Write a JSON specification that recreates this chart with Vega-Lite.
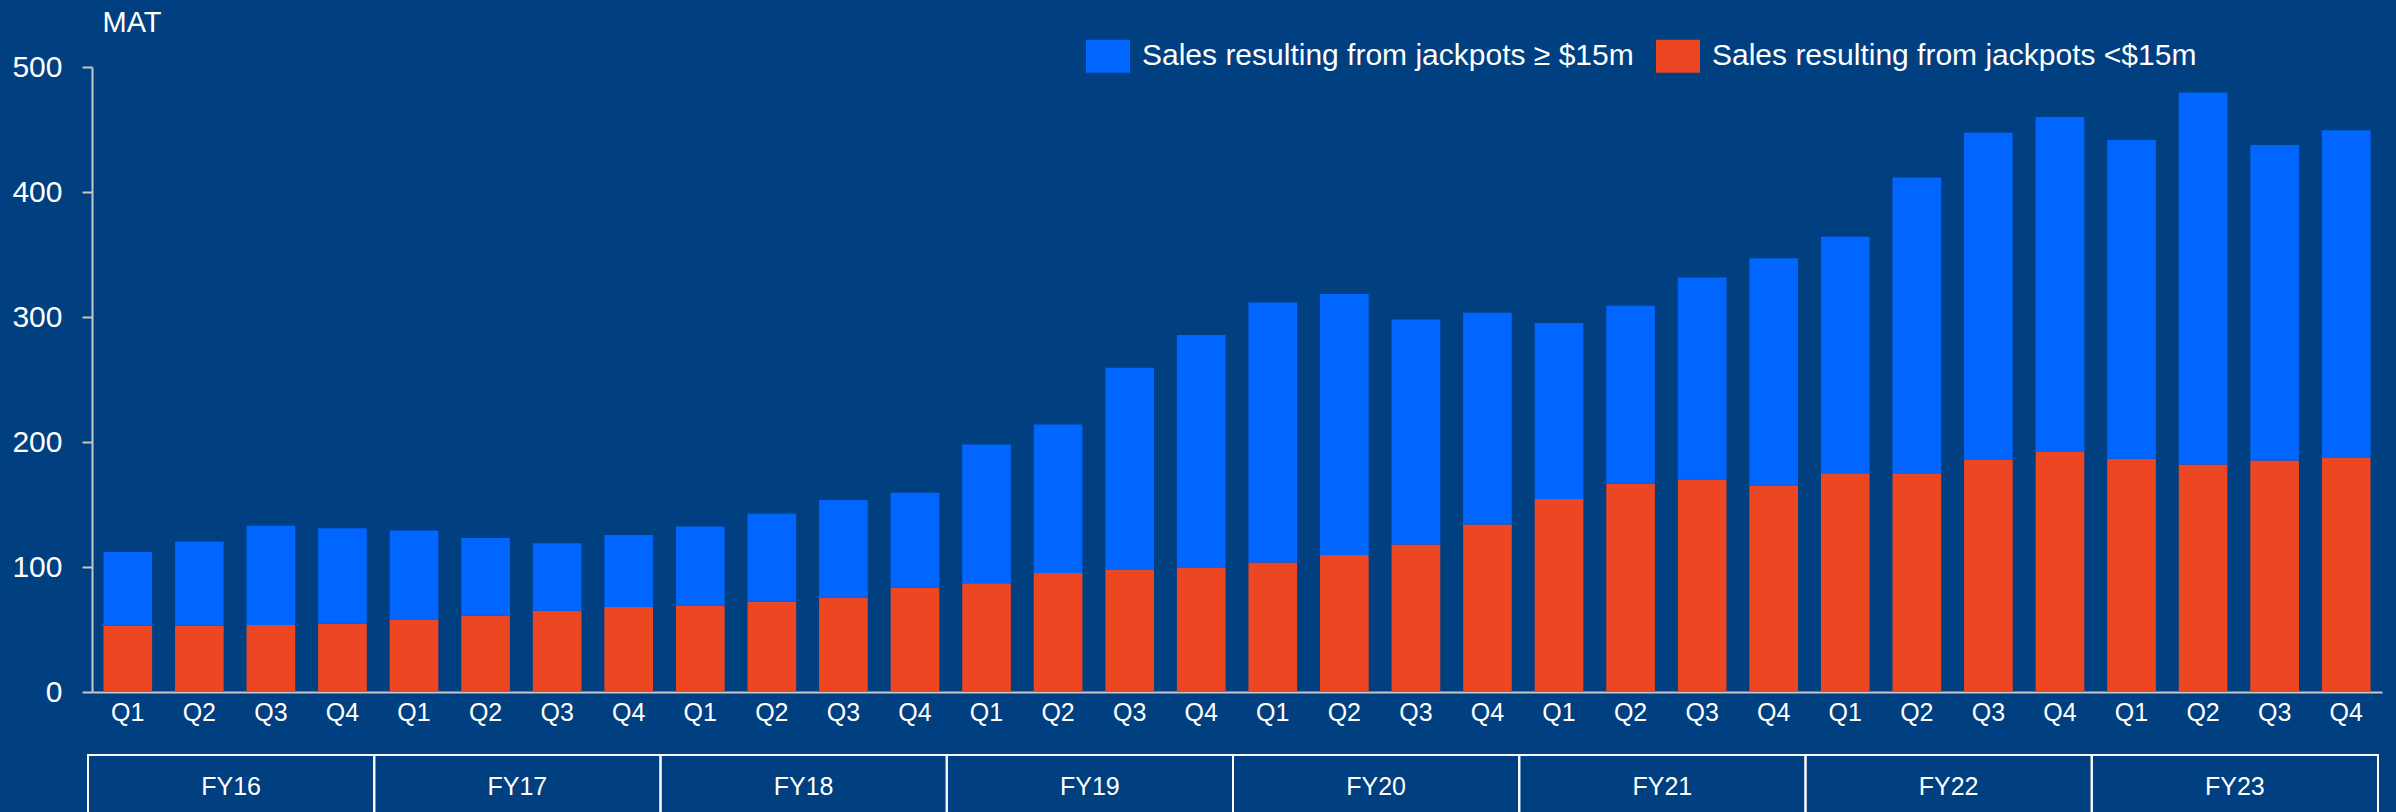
{
  "$schema": "https://vega.github.io/schema/vega-lite/v6.json",
  "width": 2290,
  "height": 625,
  "autosize": {"type": "none"},
  "padding": {"left": 92, "top": 67, "right": 14, "bottom": 120},
  "background": "#003F80",
  "config": {"view": {"stroke": null}, "font": "Liberation Sans"},
  "datasets": {
    "bars": [
      {"period": "FY16 Q1", "lt15": 53, "ge15": 59},
      {"period": "FY16 Q2", "lt15": 53, "ge15": 67.5},
      {"period": "FY16 Q3", "lt15": 53.6, "ge15": 79.4},
      {"period": "FY16 Q4", "lt15": 54.7, "ge15": 76.3},
      {"period": "FY17 Q1", "lt15": 58, "ge15": 71.3},
      {"period": "FY17 Q2", "lt15": 61, "ge15": 62.2},
      {"period": "FY17 Q3", "lt15": 65, "ge15": 54},
      {"period": "FY17 Q4", "lt15": 68, "ge15": 57.6},
      {"period": "FY18 Q1", "lt15": 69.3, "ge15": 63.2},
      {"period": "FY18 Q2", "lt15": 72.3, "ge15": 70.4},
      {"period": "FY18 Q3", "lt15": 75.7, "ge15": 77.9},
      {"period": "FY18 Q4", "lt15": 83.5, "ge15": 76},
      {"period": "FY19 Q1", "lt15": 87, "ge15": 111},
      {"period": "FY19 Q2", "lt15": 95.2, "ge15": 118.8},
      {"period": "FY19 Q3", "lt15": 97.6, "ge15": 161.9},
      {"period": "FY19 Q4", "lt15": 99.2, "ge15": 186.4},
      {"period": "FY20 Q1", "lt15": 103.7, "ge15": 208},
      {"period": "FY20 Q2", "lt15": 109.6, "ge15": 208.8},
      {"period": "FY20 Q3", "lt15": 118, "ge15": 180},
      {"period": "FY20 Q4", "lt15": 134, "ge15": 169.5},
      {"period": "FY21 Q1", "lt15": 154.4, "ge15": 140.8},
      {"period": "FY21 Q2", "lt15": 166.7, "ge15": 142.3},
      {"period": "FY21 Q3", "lt15": 170, "ge15": 161.7},
      {"period": "FY21 Q4", "lt15": 165.3, "ge15": 181.7},
      {"period": "FY22 Q1", "lt15": 175, "ge15": 189.3},
      {"period": "FY22 Q2", "lt15": 174.4, "ge15": 237.3},
      {"period": "FY22 Q3", "lt15": 185.6, "ge15": 261.9},
      {"period": "FY22 Q4", "lt15": 192, "ge15": 268},
      {"period": "FY23 Q1", "lt15": 186.7, "ge15": 254.9},
      {"period": "FY23 Q2", "lt15": 182, "ge15": 297.7},
      {"period": "FY23 Q3", "lt15": 185.3, "ge15": 252.3},
      {"period": "FY23 Q4", "lt15": 187.2, "ge15": 262.2}
    ],
    "years": [
      {"fy": "FY16"}, {"fy": "FY17"}, {"fy": "FY18"}, {"fy": "FY19"},
      {"fy": "FY20"}, {"fy": "FY21"}, {"fy": "FY22"}, {"fy": "FY23"}
    ]
  },
  "layer": [
    {
      "data": {"name": "bars"},
      "transform": [{"fold": ["lt15", "ge15"], "as": ["segment", "value"]}],
      "mark": {"type": "bar"},
      "encoding": {
        "x": {
          "field": "period",
          "type": "ordinal",
          "sort": null,
          "scale": {"paddingInner": 0.32, "paddingOuter": 0.16},
          "axis": {
            "title": null,
            "labelExpr": "split(datum.value, ' ')[1]",
            "labelAngle": 0,
            "labelColor": "#FFFFFF",
            "labelFontSize": 25,
            "labelPadding": 8,
            "ticks": false,
            "domainColor": "#C8C8C8",
            "domainWidth": 2
          }
        },
        "y": {
          "field": "value",
          "type": "quantitative",
          "stack": "zero",
          "scale": {"domain": [0, 500]},
          "axis": {
            "title": "MAT",
            "titleAngle": 0,
            "titleAlign": "left",
            "titleBaseline": "alphabetic",
            "titleX": 10,
            "titleY": -36,
            "titleColor": "#FFFFFF",
            "titleFontSize": 29,
            "titleFontWeight": "normal",
            "values": [0, 100, 200, 300, 400, 500],
            "grid": false,
            "tickSize": 10,
            "tickWidth": 2,
            "tickColor": "#C8C8C8",
            "domainColor": "#C8C8C8",
            "domainWidth": 2,
            "labelColor": "#FFFFFF",
            "labelFontSize": 30,
            "labelPadding": 20
          }
        },
        "color": {
          "field": "segment",
          "type": "nominal",
          "scale": {"domain": ["ge15", "lt15"], "range": ["#0066FF", "#EC4623"]},
          "legend": {
            "title": null,
            "orient": "none",
            "direction": "horizontal",
            "legendX": 994,
            "legendY": -33,
            "symbolType": "M-1,-0.75H1V0.75H-1Z",
            "symbolSize": 1936,
            "symbolStrokeWidth": 0,
            "labelColor": "#FFFFFF",
            "labelFontSize": 30,
            "labelOffset": 12,
            "labelLimit": 1000,
            "columnPadding": 22,
            "labelExpr": "datum.value == 'ge15' ? 'Sales resulting from jackpots ≥ $15m' : 'Sales resulting from jackpots <$15m'"
          }
        },
        "order": {"field": "segment", "type": "nominal", "sort": "descending"}
      }
    },
    {
      "data": {"name": "years"},
      "layer": [
        {
          "mark": {"type": "rect", "filled": false, "stroke": "#FFFFFF", "strokeWidth": 2, "xOffset": -4},
          "encoding": {
            "x": {"field": "fy", "type": "ordinal", "scale": {"paddingInner": 0, "paddingOuter": 0}, "axis": null},
            "y": {"datum": -50.4, "type": "quantitative"},
            "y2": {"datum": -120}
          }
        },
        {
          "mark": {"type": "text", "color": "#FFFFFF", "fontSize": 25, "baseline": "middle", "align": "center", "xOffset": -4},
          "encoding": {
            "x": {"field": "fy", "type": "ordinal", "scale": {"paddingInner": 0, "paddingOuter": 0}, "axis": null},
            "y": {"datum": -75.8, "type": "quantitative"},
            "text": {"field": "fy"}
          }
        }
      ]
    }
  ],
  "resolve": {"scale": {"x": "independent"}, "axis": {"x": "independent"}}
}
